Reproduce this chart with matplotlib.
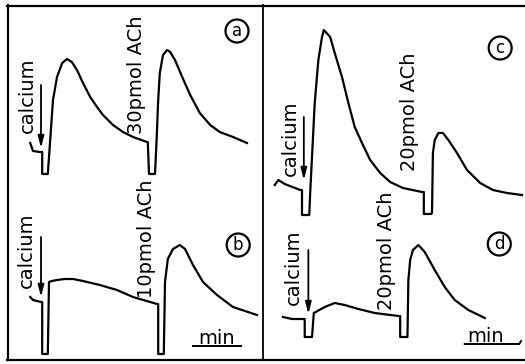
import matplotlib
matplotlib.use("Agg")
import matplotlib.pyplot as plt
from matplotlib.lines import Line2D

plt.rcParams['font.family'] = ['DejaVu Sans']

W, H = 525, 364

# ---------------- data (time in s, response in arbitrary units) ----------------
# Panel a: calcium then 30 pmol ACh
t_a = [29, 32.5, 41, 44, 44, 51, 54, 57.5, 62.5, 69, 75, 81, 87.5, 95, 104, 112.5,
       120, 132.5, 145, 157.5, 175, 176, 177.5, 185, 187, 189, 191, 195, 200, 204,
       210, 219, 229, 241, 254, 266, 282.5, 300]
r_a = [9, 1, 0, 0, -22, -22, 12, 52, 75, 89, 93, 90, 82, 69, 55, 45,
       37, 27, 20, 15, 10, 10, -22, -22, 12, 52, 79, 97, 102, 100,
       92, 75, 57, 39, 27, 20, 15, 9]

# Panel b: calcium then 10 pmol ACh
t_b = [29, 32.5, 42.5, 44, 44, 51, 52.5, 56, 62.5, 72.5, 82.5, 95, 116, 137.5,
       157.5, 187.5, 189, 189, 196, 197.5, 201, 207.5, 216, 222.5, 232.5, 245,
       262.5, 282.5, 312.5]
r_b = [3, 0, -2, -2, -54, -54, 18, 19, 20, 21, 21, 19, 15, 10,
       3, -4, -4, -54, -54, 18, 41, 51, 55, 51, 35, 18,
       5, -7, -15]

# Panel c: calcium then 20 pmol ACh
t_c = [14, 18, 25, 42, 44, 44, 52, 53, 58, 62, 66, 68, 75, 80, 88, 95, 102, 110,
       119, 130, 141, 155, 176, 178, 178, 186, 187, 188, 190, 194, 199, 205, 214.5,
       225.5, 240, 254, 269.5, 286]
r_c = [5, 10, 6, 0, 0, -25, -25, -3, 87, 130, 153, 160, 153, 137, 113, 87, 63, 47,
       30, 17, 8, 2, -2, -2, -24, -24, -23, 37, 50, 57, 57, 50, 37,
       20, 7, 0, -3, -5]

# Panel d: calcium then 20 pmol ACh
t_d = [23, 33, 45, 47, 47, 55, 57, 69, 80, 91, 106, 124, 150, 152, 152, 160,
       161, 163, 166, 172, 179, 190, 201, 212, 227, 245]
r_d = [2, 0, 0, 0, -18, -18, 6, 12, 16, 14, 10, 6, 3, 3, -18, -18,
       39, 59, 69, 74, 67, 49, 32, 19, 9, 1]

labels_ach = ["30pmol ACh", "10pmol ACh", "20pmol ACh", "20pmol ACh"]
panel_letters = ["a", "b", "c", "d"]
scale_label = "min"
scale_seconds = 60

# ---------------- figure ----------------
fig = plt.figure(figsize=(W / 100, H / 100), dpi=100)
fig.patch.set_facecolor('white')


def px_axes(x0, y0, x1, y1):
    ax = fig.add_axes([x0 / W, 1 - y1 / H, (x1 - x0) / W, (y1 - y0) / H])
    ax.set_axis_off()
    ax.patch.set_alpha(0)
    return ax


ax_a = px_axes(7, 5, 262, 182)
ax_a.set_xlim(0, 318.75); ax_a.set_ylim(-30, 147)
ax_b = px_axes(7, 182, 262, 360)
ax_b.set_xlim(0, 318.75); ax_b.set_ylim(-60, 118)
ax_c = px_axes(262, 5, 525, 230)
ax_c.set_xlim(0, 289.3); ax_c.set_ylim(-40, 185)
ax_d = px_axes(262, 230, 525, 360)
ax_d.set_xlim(0, 289.3); ax_d.set_ylim(-41, 89)

trace_kw = dict(color='black', lw=1.6, solid_joinstyle='round', clip_on=False)
txt_kw = dict(rotation=90, ha='center', va='center', fontsize=14, color='black')
circ_kw = dict(ha='center', va='center', fontsize=12,
               bbox=dict(boxstyle='circle,pad=0.15', fc='white', ec='black', lw=1.6))
arrow_kw = dict(arrowstyle='-|>,head_length=0.7,head_width=0.18', color='black', lw=1.3,
                shrinkA=0, shrinkB=0)

# panel specs: axes, data, calcium label pos, arrow x/top/bottom, ACh label pos, letter pos
specs = [
    (ax_a, t_a, r_a, (25, 57), (42.5, 67, 4), (162.5, 77), (287.5, 121)),
    (ax_b, t_b, r_b, (24, 50), (42.5, 63, 3), (175, 61), (289, 55)),
    (ax_c, t_c, r_c, (31, 52), (46, 73, 10), (162, 78), (262, 142)),
    (ax_d, t_d, r_d, (34, 52), (51, 69, 5), (137.5, 68), (261, 75)),
]

for (ax, t, r, cal, arr, ach, let), ach_text, letter in zip(specs, labels_ach, panel_letters):
    ax.plot(t, r, **trace_kw)
    ax.text(cal[0], cal[1], "calcium", **txt_kw)
    ax.annotate('', xy=(arr[0], arr[2]), xytext=(arr[0], arr[1]), arrowprops=arrow_kw,
                annotation_clip=False)
    ax.text(ach[0], ach[1], ach_text, **txt_kw)
    ax.text(let[0], let[1], letter, **circ_kw)

# scale bars (1 min)
ax_b.plot([232.5, 232.5 + scale_seconds], [-46, -46], color='black', lw=1.4, clip_on=False)
ax_b.text(262.5, -44.5, scale_label, ha='center', va='baseline', fontsize=14)
ax_d.plot([223, 223 + scale_seconds, 285], [-25, -25, -22], color='black', lw=1.4, clip_on=False)
ax_d.text(246, -22.5, scale_label, ha='center', va='baseline', fontsize=14)

# frame lines
def fline(x0, y0, x1, y1, lw=1.6):
    fig.add_artist(Line2D([x0 / W, x1 / W], [1 - y0 / H, 1 - y1 / H],
                          color='black', lw=lw, transform=fig.transFigure))

fline(7, 5.5, 525, 5.5)
fline(7, 360, 525, 360)
fline(7.5, 5, 7.5, 360)
fline(262.5, 5, 262.5, 360, lw=1.3)

fig.savefig('out.png', dpi=100, facecolor='white')
